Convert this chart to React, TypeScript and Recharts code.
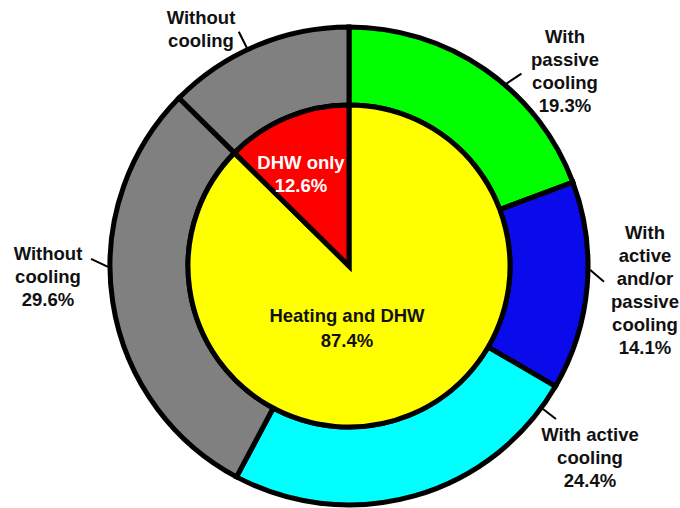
import React from "react";
import { PieChart, Pie, Cell } from "recharts";

// Inner pie: share of installations by usage
const INNER_NAMES = ["Heating and DHW", "DHW only"];
const INNER_VALUES = [87.4, 12.6];
const INNER_COLORS = ["#FFFF00", "#FF0000"];
const INNER_TEXT_COLORS = ["#111111", "#FFFFFF"];

// Outer ring: cooling mode, clockwise from 12 o'clock
const OUTER_NAMES = [
  "With passive cooling",
  "With active and/or passive cooling",
  "With active cooling",
  "Without cooling",
  "Without cooling",
];
const OUTER_VALUES = [19.3, 14.1, 24.4, 29.6, 12.6];
const OUTER_COLORS = ["#00FF00", "#0A0AEB", "#00FFFF", "#808080", "#808080"];
const OUTER_LABEL_LINES = [
  ["With", "passive", "cooling"],
  ["With", "active", "and/or", "passive", "cooling"],
  ["With active", "cooling"],
  ["Without", "cooling"],
  ["Without", "cooling"],
];
const OUTER_SHOW_PERCENT = [true, true, true, true, false];

// Label placement: leader start angle on the ring, leader offset, text block centre offset from the pie centre
const OUTER_LABEL_LAYOUT = [
  { angle: 49.2, lead: [15, -10], text: [216, -195] },
  { angle: -0.9, lead: [14, 12], text: [296, 24] },
  { angle: -36.4, lead: [13, 10], text: [241, 191] },
  { angle: 180.2, lead: [-17, -8], text: [-301, 10] },
  { angle: 115.1, lead: [-8, -16], text: [-148, -237] },
];
const INNER_LABEL_LAYOUT = [
  { text: [-2, 62], lineHeight: 25 },
  { text: [-48, -92], lineHeight: 23 },
];

const CX = 349;
const CY = 266;
const OUTER_R = 239;
const INNER_R = 161;
const FONT = "'Liberation Sans', Arial, sans-serif";
const FONT_SIZE = 18.5;

const innerData = INNER_NAMES.map((name, i) => ({ name, value: INNER_VALUES[i] }));
const outerData = OUTER_NAMES.map((name, i) => ({ name, value: OUTER_VALUES[i] }));

const fmt = (v: number) => `${v.toFixed(1)}%`;

const TextBlock = ({ x, y, lines, lineHeight, fill }: { x: number; y: number; lines: string[]; lineHeight: number; fill: string }) => {
  const top = y - ((lines.length - 1) * lineHeight) / 2;
  return (
    <>
      {lines.map((l, i) => (
        <text
          key={i}
          x={x}
          y={top + i * lineHeight}
          textAnchor="middle"
          dominantBaseline="central"
          fontFamily={FONT}
          fontWeight="bold"
          fontSize={FONT_SIZE}
          fill={fill}
        >
          {l}
        </text>
      ))}
    </>
  );
};

const renderOuterLabel = (props: any) => {
  const { index } = props;
  const cx = Number(props.cx ?? CX);
  const cy = Number(props.cy ?? CY);
  const outerRadius = Number(props.outerRadius ?? OUTER_R);
  const lay = OUTER_LABEL_LAYOUT[index];
  const rad = (lay.angle * Math.PI) / 180;
  const r0 = outerRadius + 2;
  const x0 = cx + r0 * Math.cos(rad);
  const y0 = cy - r0 * Math.sin(rad);
  const lines = [...OUTER_LABEL_LINES[index]];
  if (OUTER_SHOW_PERCENT[index]) lines.push(fmt(OUTER_VALUES[index]));
  return (
    <g key={`outer-label-${index}`}>
      <line x1={x0} y1={y0} x2={x0 + lay.lead[0]} y2={y0 + lay.lead[1]} stroke="#000" strokeWidth={2} />
      <TextBlock x={cx + lay.text[0]} y={cy + lay.text[1]} lines={lines} lineHeight={23} fill="#111111" />
    </g>
  );
};

const renderInnerLabel = (props: any) => {
  const { index } = props;
  const cx = Number(props.cx ?? CX);
  const cy = Number(props.cy ?? CY);
  const lay = INNER_LABEL_LAYOUT[index];
  const lines = [INNER_NAMES[index], fmt(INNER_VALUES[index])];
  return (
    <g key={`inner-label-${index}`}>
      <TextBlock
        x={cx + lay.text[0]}
        y={cy + lay.text[1]}
        lines={lines}
        lineHeight={lay.lineHeight}
        fill={INNER_TEXT_COLORS[index]}
      />
    </g>
  );
};

export default function App() {
  return (
    <div style={{ position: "absolute", left: 0, top: 0, width: 680, height: 508, background: "#fff" }}>
      <PieChart width={680} height={508} margin={{ top: 0, right: 0, bottom: 0, left: 0 }}>
        <Pie
          data={outerData}
          dataKey="value"
          cx={CX}
          cy={CY}
          innerRadius={INNER_R}
          outerRadius={OUTER_R}
          startAngle={90}
          endAngle={-270}
          isAnimationActive={false}
          label={renderOuterLabel}
          labelLine={false}
        >
          {outerData.map((_, i) => (
            <Cell key={i} fill={OUTER_COLORS[i]} stroke="#000" strokeWidth={5} />
          ))}
        </Pie>
        <Pie
          data={innerData}
          dataKey="value"
          cx={CX}
          cy={CY}
          innerRadius={0}
          outerRadius={INNER_R}
          startAngle={90}
          endAngle={-270}
          isAnimationActive={false}
          label={renderInnerLabel}
          labelLine={false}
        >
          {innerData.map((_, i) => (
            <Cell key={i} fill={INNER_COLORS[i]} stroke="#000" strokeWidth={5} />
          ))}
        </Pie>
      </PieChart>
    </div>
  );
}
